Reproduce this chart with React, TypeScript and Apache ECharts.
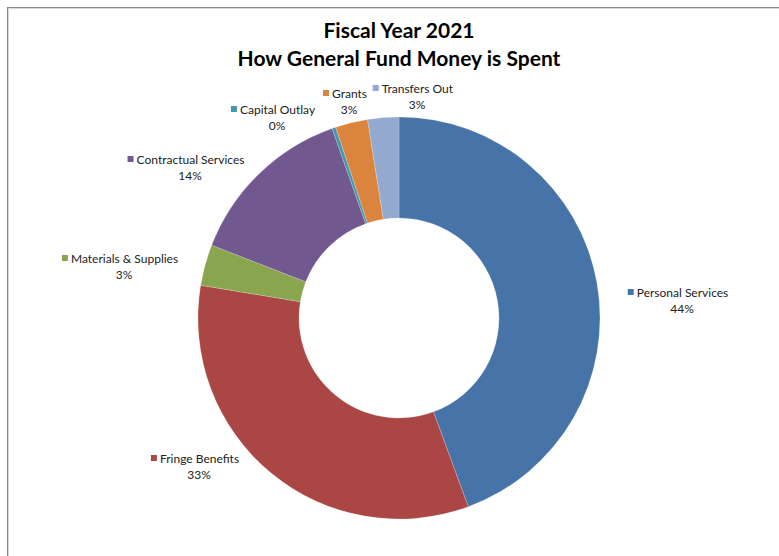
import React, { useEffect, useRef } from "react";
import * as echarts from "echarts";

const categories = [
  "Personal Services",
  "Fringe Benefits",
  "Materials & Supplies",
  "Contractual Services",
  "Capital Outlay",
  "Grants",
  "Transfers Out",
];
const values = [44.4, 33.2, 3.3, 13.7, 0.3, 2.6, 2.5];
const colors = ["#4673A8", "#AA4643", "#89A54E", "#71588F", "#4198AF", "#DB843D", "#93A9CF"];
// label block centres (page px)
const labelPos: [number, number][] = [
  [678, 300],
  [195, 466],
  [120, 266],
  [186, 167],
  [273, 117],
  [345, 101],
  [413, 96],
];

const FONT = "Lato, 'Open Sans', sans-serif";

export default function App() {
  const ref = useRef<HTMLDivElement>(null);
  useEffect(() => {
    if (!ref.current) return;
    const chart = echarts.init(ref.current, null, { renderer: "svg" });
    const total = values.reduce((a, b) => a + b, 0);
    const data = categories.map((name, i) => ({
      name,
      value: values[i],
      itemStyle: { color: colors[i] },
      label: {
        formatter: `{sq|}{n| ${name}}\n{p|${Math.round((values[i] / total) * 100)}%}`,
        rich: {
          sq: { width: 6, height: 6, backgroundColor: colors[i] },
          n: { fontSize: 12, fontFamily: FONT, color: "#222", lineHeight: 16 },
          p: { fontSize: 12, fontFamily: FONT, color: "#222", lineHeight: 16, padding: [0, 0, 0, 8] },
        },
      },
    }));
    chart.setOption({
      animation: false,
      backgroundColor: "#ffffff",
      title: {
        text: "Fiscal Year 2021\nHow General Fund Money is Spent",
        left: 394,
        textAlign: "center",
        top: 10,
        textStyle: {
          fontFamily: FONT,
          fontSize: 21,
          fontWeight: "bold",
          color: "#000",
          lineHeight: 28,
        },
      },
      graphic: [
        { type: "line", shape: { x1: 7, y1: 7.5, x2: 779, y2: 7.5 }, style: { stroke: "#8a8a8a", lineWidth: 1 } },
        { type: "line", shape: { x1: 8, y1: 8.5, x2: 779, y2: 8.5 }, style: { stroke: "#d8d8d8", lineWidth: 1 } },
        { type: "line", shape: { x1: 7.5, y1: 7, x2: 7.5, y2: 556 }, style: { stroke: "#8a8a8a", lineWidth: 1 } },
        { type: "line", shape: { x1: 8.5, y1: 8, x2: 8.5, y2: 556 }, style: { stroke: "#d8d8d8", lineWidth: 1 } },
      ],
      series: [
        {
          type: "pie",
          center: [399, 318],
          radius: [100, 201],
          startAngle: 90,
          clockwise: true,
          avoidLabelOverlap: false,
          itemStyle: { borderColor: "rgba(255,255,255,0.4)", borderWidth: 0.5 },
          label: { show: true, position: "outside", align: "center" },
          labelLine: { show: false },
          labelLayout: (p: any) => {
            const pos = labelPos[p.dataIndex];
            return { x: pos[0], y: pos[1], align: "center", verticalAlign: "middle" };
          },
          emphasis: { disabled: true },
          data,
        },
      ],
    });
    return () => chart.dispose();
  }, []);
  return (
    <div
      ref={ref}
      style={{ position: "fixed", left: 0, top: 0, width: 779, height: 556 }}
    />
  );
}
